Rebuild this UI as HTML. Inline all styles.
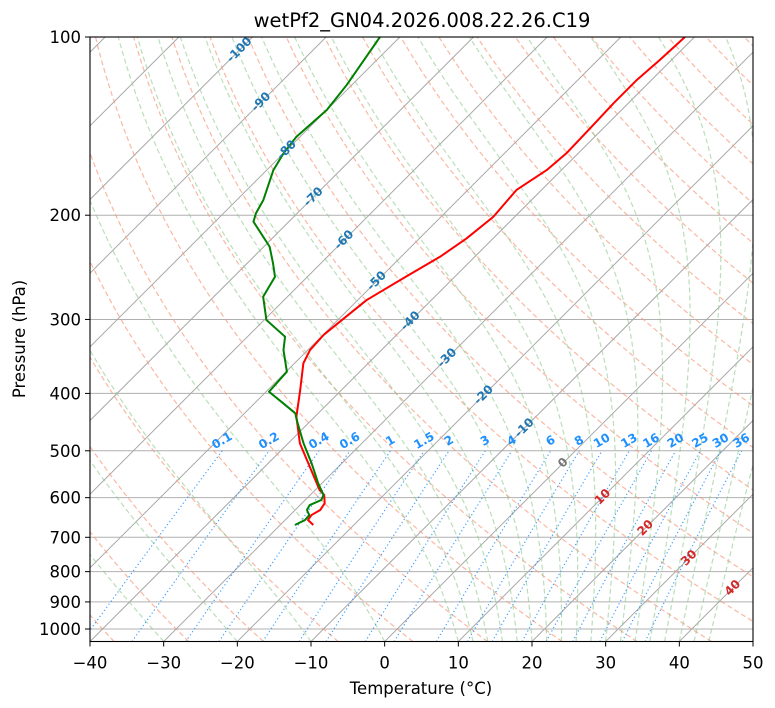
<!DOCTYPE html>
<html><head><meta charset="utf-8"><style>
body{margin:0;background:#fff;}
svg{display:block;font-family:"DejaVu Sans","Liberation Sans",sans-serif;}
</style></head><body>
<svg id="chart" width="775" height="708" viewBox="0 0 775 708">
<defs><clipPath id="plotclip"><rect x="90" y="37" width="663" height="604.5"/></clipPath></defs>
<rect x="0" y="0" width="775" height="708" fill="#fff"/>
<text x="422" y="27" text-anchor="middle" font-size="19.5" fill="#000">wetPf2_GN04.2026.008.22.26.C19</text>
<g id="plot" clip-path="url(#plotclip)"></g>
<g id="labels"></g>
<rect x="90" y="37" width="663" height="604.5" fill="none" stroke="#000" stroke-width="1.1"/>
<g id="axes"></g>
<text x="421" y="694" text-anchor="middle" font-size="16.5">Temperature (°C)</text>
<text x="0" y="0" transform="translate(25,339) rotate(-90)" text-anchor="middle" font-size="16.5">Pressure (hPa)</text>
</svg>
<script>
// data
const tempPressure = [667.3,654.5,642.0,629.5,613.4,593.7,582.4,485.8,437.9,394.8,355.8,337.9,318.7,302.6,278.2,255.7,235.0,218.8,201.2,181.3,167.8,157.2,140.8,129.4,118.2,109.4,100];
const tempValues = [-25.5,-26.9,-27.1,-26.6,-26.9,-28.1,-29.4,-38.4,-42.5,-45.6,-48.8,-49.7,-49.9,-49.5,-48.8,-46.8,-44.7,-43.6,-42.9,-43.4,-42.0,-41.6,-41.8,-42.0,-42.0,-41.6,-41.3];
const dewPressure = [667.3,654.5,642.0,629.5,617.4,605.5,593.7,567.4,525.0,485.8,443.6,432.2,415.7,397.4,367.6,337.9,320.8,300.6,274.6,254.1,241.1,226.1,205.1,198.5,188.5,167.8,157.2,147.4,132.8,120.5,100];
const dewValues = [-28.0,-27.3,-27.4,-28.4,-28.7,-27.8,-28.2,-30.5,-34.1,-37.9,-42.0,-43.1,-46.1,-49.6,-49.9,-53.3,-54.9,-59.7,-63.3,-64.4,-66.5,-69.2,-74.8,-75.6,-76.4,-79.1,-80.0,-80.5,-80.0,-80.7,-82.7];
const xTicks = [-40,-30,-20,-10,0,10,20,30,40,50];
const yTicks = [100,200,300,400,500,600,700,800,900,1000];
const isothermLabels = [-100,-90,-80,-70,-60,-50,-40,-30,-20,-10,0,10,20,30,40];
const mixingRatios = [0.1,0.2,0.4,0.6,1,1.5,2,3,4,6,8,10,13,16,20,25,30,36];

const NS="http://www.w3.org/2000/svg";
const X0=90,X1=753,YT=37,YB=641.5,PX=(X1-X0)/90;
function yP(p){return YT+592*Math.log10(p/100);}
function xT(t,p){return X0+(t+40)*PX+(YB-yP(p));}
function el(tag,attrs,parent){const e=document.createElementNS(NS,tag);for(const k in attrs)e.setAttribute(k,attrs[k]);parent.appendChild(e);return e;}
const plot=document.getElementById('plot'),labels=document.getElementById('labels'),axes=document.getElementById('axes');
function pathOf(ts,ps){return ts.map((t,i)=>(i?'L':'M')+xT(t,ps[i]).toFixed(2)+' '+yP(ps[i]).toFixed(2)).join('');}
const pLevels=[];for(let p=1050;p>=99.9;p-=5)pLevels.push(p);

for(const p of yTicks){
  const g=el('line',{x1:X0,x2:X1,y1:yP(p),y2:yP(p),stroke:'#b0b0b0','stroke-width':1},plot);
  
  
}
for(let t=-150;t<=50;t+=10){
  const l=el('line',{x1:xT(t,1050),y1:yP(1050),x2:xT(t,100),y2:yP(100),stroke:'#a8a8a8','stroke-width':1},plot);
  
  
}
for(let th=-50;th<=200;th+=10){
  const ts=pLevels.map(p=>(th+273.15)*Math.pow(p/1000,0.2857)-273.15);
  const d=el('path',{d:pathOf(ts,pLevels),fill:'none',stroke:'#f79a7c','stroke-width':1.2,'stroke-dasharray':'5,3','opacity':0.7},plot);
  
  
}
function es(t){return 6.112*Math.exp(17.67*t/(t+243.5));}
function dTdp(p,t){const Tk=t+273.15,e=es(t),rs=0.622*e/(p-e);
  return (287.04*Tk+2.501e6*rs)/(p*(1005.7+2.501e6*2.501e6*rs*0.622/(287.04*Tk*Tk)));}
const moistStarts=[-50,-40,-30,-20,-10,0,10,12,14,16,18,20,22,24,26,28,30,32,34,36,38,40,42,44];
for(const t0 of moistStarts){
  const ts=[t0];let t=t0;
  for(let i=1;i<pLevels.length;i++){const p=pLevels[i-1],h=pLevels[i]-p;
    const k1=dTdp(p,t),k2=dTdp(p+h/2,t+h*k1/2),k3=dTdp(p+h/2,t+h*k2/2),k4=dTdp(p+h,t+h*k3);
    t+=h*(k1+2*k2+2*k3+k4)/6;ts.push(t);}
  const m=el('path',{d:pathOf(ts,pLevels),fill:'none',stroke:'#8cc88c','stroke-width':1.2,'stroke-dasharray':'5,3','opacity':0.6},plot);
  
  
}
const mixP=[];for(let p=1050;p>=500;p-=10)mixP.push(p);
function tdOf(w,p){const e=p*w/(622+w),l=Math.log(e/6.112);return 243.5*l/(17.67-l);}
for(const w of mixingRatios){
  const ts=mixP.map(p=>tdOf(w,p));
  const m=el('path',{d:pathOf(ts,mixP),fill:'none',stroke:'#1e90ff','stroke-width':1.2,'stroke-dasharray':'1.2,2.6','opacity':0.85},plot);
  
  
  const lx=xT(tdOf(w,500),500);
  const tx=el('text',{x:0,y:0,transform:`translate(${lx.toFixed(1)},441) rotate(-30)`,'text-anchor':'middle','dominant-baseline':'middle','font-size':12,'font-weight':'bold',fill:'#1e90ff'},labels);
  tx.textContent=String(w);
  
  
}
const isoLabelY=[50,102,150,197,240,281,321,358,395,428,463,497,528,558,588];
isothermLabels.forEach((t,i)=>{
  const y=isoLabelY[i];const p=100*Math.pow(10,(y-YT)/592);const x=xT(t,p);
  const col=t<0?'#1f77b4':(t===0?'#777':'#d62728');
  const tx=el('text',{x:0,y:0,transform:`translate(${x.toFixed(1)},${y}) rotate(-45)`,'text-anchor':'middle','dominant-baseline':'middle','font-size':12,'font-weight':'bold',fill:col},labels);
  tx.textContent=String(t);
  
  
});
const tl=el('path',{d:pathOf(tempValues,tempPressure),fill:'none',stroke:'#ff0000','stroke-width':2,'stroke-linejoin':'round'},plot);


const dl=el('path',{d:pathOf(dewValues,dewPressure),fill:'none',stroke:'#008000','stroke-width':2,'stroke-linejoin':'round'},plot);


for(const t of xTicks){
  const x=X0+(t+40)*PX;
  const k=el('line',{x1:x,x2:x,y1:YB,y2:YB+5,stroke:'#000','stroke-width':1},axes);
  
  
  const tx=el('text',{x:x,y:YB+27,'text-anchor':'middle','font-size':16.5},axes);
  tx.textContent=(t<0?'\u2212'+(-t):String(t));
  
  
}
for(const p of yTicks){
  const y=yP(p);
  const k=el('line',{x1:X0-5,x2:X0,y1:y,y2:y,stroke:'#000','stroke-width':1},axes);
  
  
  const tx=el('text',{x:X0-9,y:y+6,'text-anchor':'end','font-size':16.5},axes);
  tx.textContent=String(p);
  
  
}
</script>
</body></html>
